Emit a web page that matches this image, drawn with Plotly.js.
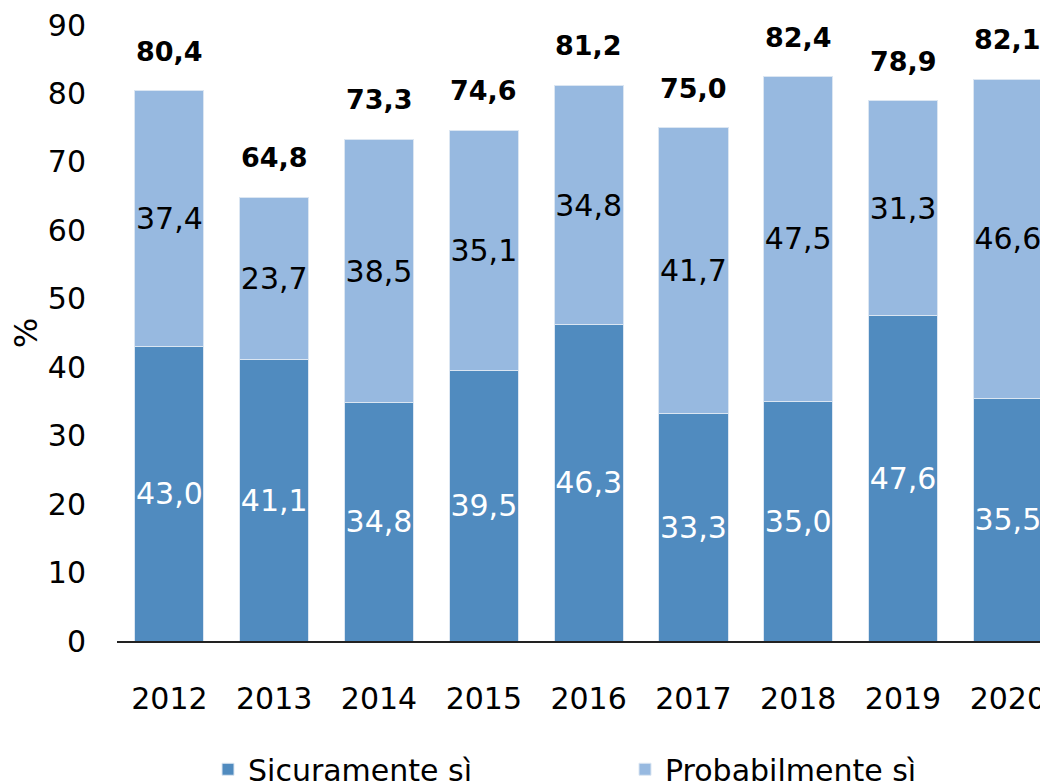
<!DOCTYPE html>
<html>
<head>
<meta charset="utf-8">
<script src="https://cdn.plot.ly/plotly-3.0.1.min.js"></script>
<style>html,body{margin:0;padding:0;background:#fff;}#chart{width:1040px;height:783px;}</style>
</head>
<body>
<div id="chart"></div>
<script>
const years = ['2012','2013','2014','2015','2016','2017','2018','2019','2020'];
const sicuramente = [43.0, 41.1, 34.8, 39.5, 46.3, 33.3, 35.0, 47.6, 35.5];
const probabilmente = [37.4, 23.7, 38.5, 35.1, 34.8, 41.7, 47.5, 31.3, 46.6];
const totals = [80.4, 64.8, 73.3, 74.6, 81.2, 75.0, 82.4, 78.9, 82.1];
const seriesNames = ['Sicuramente sì', 'Probabilmente sì'];

const fmt = v => v.toFixed(1).replace('.', ',');
const FONT = 'DejaVu Sans';

const traces = [
  {
    type: 'bar', name: seriesNames[0], x: years, y: sicuramente,
    text: sicuramente.map(fmt), textposition: 'inside', insidetextanchor: 'middle',
    textangle: 0, textfont: {family: FONT, size: 30, color: '#ffffff'},
    marker: {color: '#508BBF', line: {color: '#dbe6f2', width: 1}},
    hoverinfo: 'skip', cliponaxis: false
  },
  {
    type: 'bar', name: seriesNames[1], x: years, y: probabilmente,
    text: probabilmente.map(fmt), textposition: 'inside', insidetextanchor: 'middle',
    textangle: 0, textfont: {family: FONT, size: 30, color: '#000000'},
    marker: {color: '#97B9E0', line: {color: '#dbe6f2', width: 1}},
    hoverinfo: 'skip', cliponaxis: false
  }
];

const annotations = years.map((yr, i) => ({
  x: i, y: totals[i], xref: 'x', yref: 'y',
  text: '<b>' + fmt(totals[i]) + '</b>',
  showarrow: false, yanchor: 'bottom', yshift: 22,
  font: {family: FONT, size: 27, color: '#000'}
}));

const layout = {
  width: 1040, height: 783,
  margin: {l: 117, r: 0, t: 25, b: 142, autoexpand: false},
  paper_bgcolor: '#fff', plot_bgcolor: '#fff',
  barmode: 'stack', bargap: 0.34,
  font: {family: FONT, size: 30, color: '#000'},
  uniformtext: {mode: 'show', minsize: 30},
  showlegend: true,
  legend: {
    orientation: 'h', x: 0.0986, xanchor: 'left', y: -0.166, yanchor: 'top',
    font: {family: FONT, size: 30, color: '#000'},
    entrywidth: 372, entrywidthmode: 'pixels', traceorder: 'normal'
  },
  xaxis: {
    type: 'category', range: [-0.5, 8.307],
    showline: true, linecolor: '#222', linewidth: 1.5,
    showgrid: false, zeroline: false, ticks: '',
    ticklabelstandoff: 30,
    tickfont: {family: FONT, size: 30, color: '#000'}
  },
  yaxis: {
    range: [0, 90], dtick: 10, showgrid: false, zeroline: false, showline: false,
    ticks: '', ticklabelstandoff: 30,
    tickfont: {family: FONT, size: 30, color: '#000'},
    title: {text: '%', font: {family: FONT, size: 32, color: '#000'}, standoff: 0}
  },
  annotations: annotations
};

Plotly.newPlot('chart', traces, layout, {staticPlot: true, displayModeBar: false});
</script>
</body>
</html>
